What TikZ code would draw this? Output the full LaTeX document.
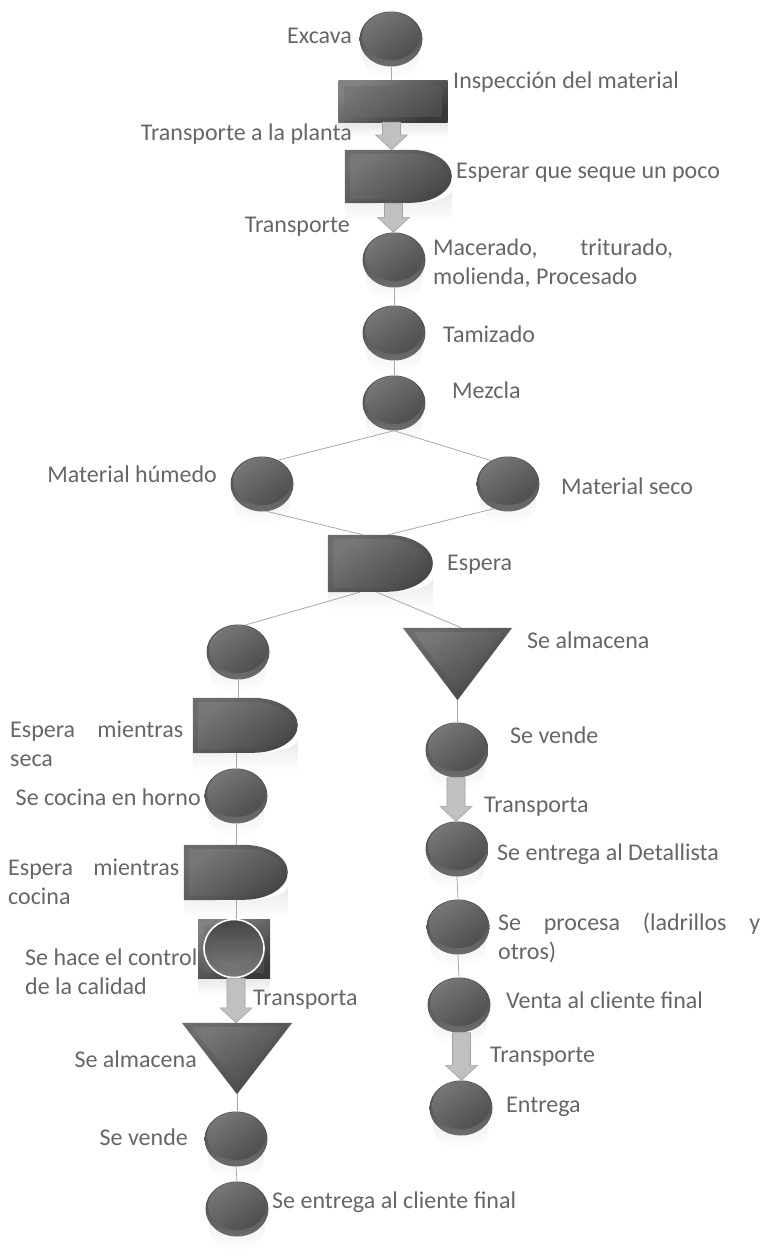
\documentclass[tikz,border=0pt]{standalone}
\usepackage{fontspec}
\setmainfont{Carlito}
\usetikzlibrary{shapes.geometric,calc,fadings}
\pgfdeclarelayer{background}
\pgfsetlayers{background,main}
\definecolor{txt}{HTML}{666666}
\definecolor{rimT}{HTML}{464646}
\definecolor{rimB}{HTML}{6C6C6C}
\definecolor{shL}{HTML}{777777}
\definecolor{shD}{HTML}{4A4A4A}
\definecolor{arrF}{HTML}{C0C0C0}
\definecolor{arrD}{HTML}{A2A2A2}
\definecolor{lineC}{HTML}{A8A8A8}
\newcommand{\twol}[2]{\begin{tabular}[t]{@{}l@{}}#1\\#2\end{tabular}}
\newcommand{\Dshape}[4]{%
 \shade[top color=rimB,bottom color=rimT,shading angle=35] (#1.north west) -- ++(#2,0) arc[start angle=90,end angle=-90,x radius=#3pt,y radius=#4pt] -- (#1.south west) -- cycle;
 \shade[top color=shL,bottom color=shD,shading angle=35] ($(#1.north west)+(5,4)$) -- ++(#2-5,0) arc[start angle=90,end angle=-90,x radius=#3pt-5pt,y radius=#4pt-4pt] -- ($(#1.south west)+(5,-4)$) -- cycle;
 \begin{pgfonlayer}{background}
 \fill[black!9,path fading=south] (#1.south west) -- ++(#2,0) arc[start angle=-90,end angle=0,x radius=#3pt,y radius=#4pt*0.5] -- ($(#1.south east)+(0,18)$) -- ($(#1.south west)+(0,18)$) -- cycle;
 \end{pgfonlayer}}
\newcommand{\Tshape}[1]{%
 \shade[top color=rimB,bottom color=rimT,shading angle=35] (#1.north west) -- (#1.north east) -- (#1.south) -- cycle;
 \shade[top color=shL,bottom color=shD,shading angle=35] ($(#1.north west)+(10,4)$) -- ($(#1.north east)+(-10,4)$) -- ($(#1.south)+(0,-10)$) -- cycle;}
\newcommand{\Refl}[1]{%
 \begin{pgfonlayer}{background}
 \fill[black!9,path fading=south] ($(#1.south)+(0,-10)$) ellipse [x radius=28pt,y radius=24pt];
 \end{pgfonlayer}}
\newcommand{\Barrow}[3]{%
 \coordinate (#1tip) at ($(#2.north)+(#3,0)$);
 \filldraw[fill=arrF,draw=arrD,line width=0.6pt] ($(#1.south -| #1tip)+(-9,0)$) -- ($(#1.south -| #1tip)+(9,0)$) -- ($(#1tip)+(9,-15)$) -- ($(#1tip)+(16,-15)$) -- (#1tip) -- ($(#1tip)+(-16,-15)$) -- ($(#1tip)+(-9,-15)$) -- cycle;}
\begin{document}
\begin{tikzpicture}[x=1pt,y=-1pt,
  lbl/.style={text=txt,font=\fontsize{24}{29.5}\selectfont,inner sep=0pt},
  conn/.style={draw=lineC,line width=0.8pt},
  anch/.style={rectangle,inner sep=0pt},
  ball/.style={ellipse,inner sep=0pt,minimum width=63pt,minimum height=55pt,
    top color=rimT,bottom color=rimB,
    path picture={\shade[top color=shL,bottom color=shD,shading angle=35]
      ($(path picture bounding box.center)+(0pt,3pt)$) ellipse [x radius=29pt,y radius=24pt];}},
  rectbox/.style={rectangle,inner sep=0pt,top color=rimB!85!white,bottom color=rimT!80!black,shading angle=30,
    path picture={\shade[top color=shL,bottom color=shD,shading angle=35]
      ($(path picture bounding box.north west)+(6pt,-6pt)$) rectangle ($(path picture bounding box.south east)+(-6pt,6pt)$);}}]
\useasboundingbox (0,0) rectangle (761,1256);
% ---- nodes: main column
\node[ball] (exc) at (391,39) {};
\node[rectbox,minimum width=109pt,minimum height=42pt] (insp) at (393,101) {};
\node[anch,minimum width=107pt,minimum height=53pt] (esq) at (398.5,176.5) {};
\node[ball] (mac) at (394,260) {};
\node[ball] (tam) at (394,333) {};
\node[ball] (mez) at (394,403) {};
\node[ball] (hum) at (262,484) {};
\node[ball] (sec) at (508,484) {};
\node[anch,minimum width=105pt,minimum height=57pt] (esp) at (380.5,563.5) {};
% ---- right column
\node[anch,minimum width=109pt,minimum height=72pt] (alm2) at (457.5,664) {};
\node[ball] (vr) at (457,750) {};
\node[ball] (det) at (457,849) {};
\node[ball] (pro) at (458,927) {};
\node[ball] (ven) at (459,1005) {};
\node[ball] (ent) at (461,1108) {};
% ---- left column
\node[ball] (lc) at (238,652) {};
\node[anch,minimum width=105pt,minimum height=55pt] (dsec) at (245.5,725.5) {};
\node[ball] (coc) at (236,796) {};
\node[anch,minimum width=104pt,minimum height=55pt] (dcoc) at (236,872.5) {};
\node[rectbox,minimum width=72pt,minimum height=59pt] (qc) at (234,948.5) {};
\node[anch,minimum width=110pt,minimum height=71pt] (alm1) at (237,1058.5) {};
\node[ball] (vl) at (236,1139) {};
\node[ball] (efl) at (237,1209) {};
% ---- reflections
\foreach \n in {exc,mac,tam,mez,hum,sec,vr,det,pro,ven,ent,lc,coc,vl,efl}{\Refl{\n}}
\begin{pgfonlayer}{background}
\fill[black!9,path fading=south] (insp.south west) rectangle ($(insp.south east)+(0,16)$);
\fill[black!9,path fading=south] (qc.south west) rectangle ($(qc.south east)+(0,18)$);
\end{pgfonlayer}
% ---- custom shapes
\Dshape{esq}{66}{41}{26.5}
\Dshape{esp}{59}{46}{28.5}
\Dshape{dsec}{60}{45}{27.5}
\Dshape{dcoc}{60}{44}{27.5}
\Tshape{alm2}
\Tshape{alm1}
\shade[draw=white,line width=1.6pt,top color=rimT,bottom color=rimB!90!white] (qc.center) ellipse [x radius=30pt,y radius=29pt];
\shade[top color=shD,bottom color=shL] ($(qc.center)+(0,-2)$) ellipse [x radius=23pt,y radius=21pt];
% ---- connectors
\draw[conn] (exc.south) -- (exc.south |- insp.north);
\draw[conn] (mac.south) -- (tam.north);
\draw[conn] (tam.south) -- (mez.north);
\draw[conn] (mez.south) -- (hum.56);
\draw[conn] (mez.south) -- (sec.126);
\draw[conn] (hum.-80) -- ($(esp.north west)+(35,0)$);
\draw[conn] (sec.-120) -- ($(esp.north west)+(60,0)$);
\draw[conn] ($(esp.south west)+(32,0)$) -- (lc.75);
\draw[conn] ($(esp.south west)+(49,0)$) -- ($(alm2.north)+(4,0)$);
\draw[conn] (alm2.south) -- (alm2.south |- vr.north);
\draw[conn] (det.south) -- (pro.north);
\draw[conn] (pro.south) -- (ven.north);
\draw[conn] (lc.south) -- (lc.south |- dsec.north);
\draw[conn] (coc.north |- dsec.south) -- (coc.north);
\draw[conn] (coc.south) -- (coc.south |- dcoc.north);
\draw[conn] (dcoc.south) -- (dcoc.south |- qc.north);
\draw[conn] (alm1.south) -- (alm1.south |- vl.north);
\draw[conn] (vl.south) -- (efl.north);
\Barrow{insp}{esq}{-7}
\Barrow{esq}{mac}{-0.5}
\Barrow{qc}{alm1}{-1}
\Barrow{vr}{det}{-1}
\Barrow{ven}{ent}{0.5}
% ---- labels
\node[lbl,anchor=base east] (tExc) at (352,43) {Excava};
\node[lbl,anchor=base west] (tInsp) at (453,88) {Inspección del material};
\node[lbl,anchor=base east] (tTr1) at (352,140) {Transporte a la planta};
\node[lbl,anchor=base west] (tEsq) at (456,178) {Esperar que seque un poco};
\node[lbl,anchor=base east] (tTr2) at (350,232) {Transporte};
\node[lbl,anchor=base west] (tMac) at (433,255) {\twol{\makebox[240pt][s]{Macerado, triturado,}}{molienda, Procesado}};
\node[lbl,anchor=base west] (tTam) at (443,342) {Tamizado};
\node[lbl,anchor=base west] (tMez) at (452,398) {Mezcla};
\node[lbl,anchor=base east] (tHum) at (217,482) {Material húmedo};
\begin{scope}
\clip (540,470) rectangle (761,493);
\node[lbl,anchor=base west] (tSec) at (561,494) {Material seco};
\end{scope}
\node[lbl,anchor=base west] (tEsp) at (447,570) {Espera};
\node[lbl,anchor=base west] (tAlm2) at (527,648) {Se almacena};
\node[lbl,anchor=base west] (tVr) at (510,743) {Se vende};
\node[lbl,anchor=base west] (tTr3) at (484,812) {Transporta};
\node[lbl,anchor=base west] (tDet) at (497,860) {Se entrega al Detallista};
\node[lbl,anchor=base west] (tPro) at (498,930) {\twol{\makebox[262pt][s]{Se procesa (ladrillos y}}{otros)}};
\node[lbl,anchor=base west] (tVen) at (506,1008) {Venta al cliente final};
\node[lbl,anchor=base west] (tTr4) at (490,1062) {Transporte};
\node[lbl,anchor=base west] (tEnt) at (506,1112) {Entrega};
\node[lbl,anchor=base west] (tDsec) at (10,737) {\twol{\makebox[173pt][s]{Espera mientras}}{seca}};
\node[lbl,anchor=base east] (tCoc) at (201,805) {Se cocina en horno};
\node[lbl,anchor=base west] (tDcoc) at (8,875) {\twol{\makebox[171pt][s]{Espera mientras}}{cocina}};
\node[lbl,anchor=base west] (tQc) at (25,965) {\twol{Se hace el control}{de la calidad}};
\node[lbl,anchor=base west] (tTr5) at (253,1005) {Transporta};
\node[lbl,anchor=base east] (tAlm1) at (197,1067) {Se almacena};
\node[lbl,anchor=base east] (tVl) at (188,1145) {Se vende};
\node[lbl,anchor=base west] (tEfl) at (272,1208) {Se entrega al cliente final};
\end{tikzpicture}
\end{document}
